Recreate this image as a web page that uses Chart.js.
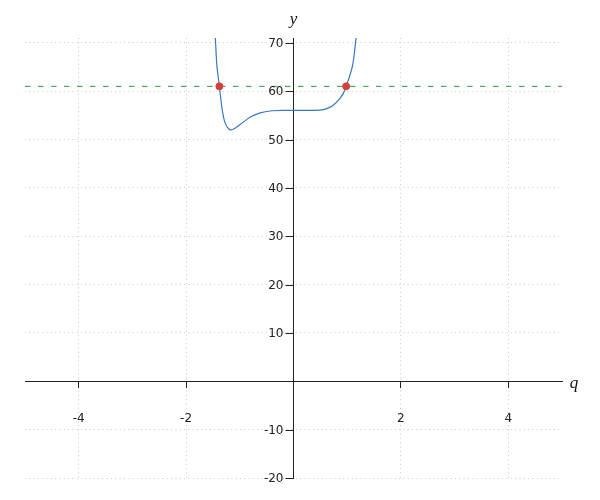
<!DOCTYPE html>
<html><head><meta charset="utf-8">
<script src="https://cdn.jsdelivr.net/npm/chart.js@4"></script>
<style>html,body{margin:0;padding:0;background:#fff}</style>
</head><body>
<canvas id="c" width="600" height="500"></canvas>
<script>
// Curve samples (q, y)
const curveQ = [-1.455, -1.43, -1.405, -1.38, -1.336, -1.29, -1.23, -1.168, -1.08, -0.995, -0.81, -0.62, -0.4, -0.2, 0, 0.2, 0.49, 0.62, 0.74, 0.865, 0.93, 0.98, 1.05, 1.11, 1.165];
const curveY = [71, 65.7, 63.2, 61, 56.8, 54.0, 52.5, 52.0, 52.4, 53.1, 54.6, 55.5, 55.95, 56.05, 56.05, 56.05, 56.1, 56.4, 57.1, 58.5, 59.6, 61, 63.3, 65.9, 71];
// Horizontal level and its crossing points
const levelY = 61;
const levelQ = [-5, 5];
const crossQ = [-1.38, 0.98];
const crossY = [61, 61];
// Tick labels
const xTicks = [-4, -2, 2, 4];
const yTicks = [-20, -10, 10, 20, 30, 40, 50, 60, 70];
const xRange = [-5, 5];
const yRange = [-20, 71];

const curveData = curveQ.map((q, i) => ({x: q, y: curveY[i]}));
const levelData = levelQ.map(q => ({x: q, y: levelY}));
const crossData = crossQ.map((q, i) => ({x: q, y: crossY[i]}));

const axisDecor = {
  id: 'axisDecor',
  afterDraw(chart) {
    const {ctx, scales} = chart;
    const ax = scales.x.getPixelForValue(0);
    ctx.save();
    // y tick marks and labels beside the centred axis
    ctx.strokeStyle = '#222';
    ctx.lineWidth = 1;
    ctx.fillStyle = '#222';
    ctx.font = '12px "DejaVu Sans"';
    ctx.textAlign = 'right';
    ctx.textBaseline = 'middle';
    yTicks.forEach(v => {
      const py = Math.round(scales.y.getPixelForValue(v)) + 0.5;
      ctx.beginPath();
      ctx.moveTo(ax - 8, py);
      ctx.lineTo(ax, py);
      ctx.stroke();
      ctx.fillText(String(v), ax - 10, py);
    });
    // axis titles
    ctx.fillStyle = '#111';
    ctx.font = 'italic 17px "Liberation Serif", "DejaVu Serif", serif';
    ctx.textAlign = 'center';
    ctx.fillText('y', ax, 20);
    ctx.fillText('q', 574, scales.y.getPixelForValue(0) + 2);
    ctx.restore();
  }
};

new Chart(document.getElementById('c'), {
  type: 'scatter',
  data: {
    datasets: [
      {data: crossData, backgroundColor: '#d2413a', borderColor: '#d2413a', pointRadius: 3.5, showLine: false, order: 0},
      {data: levelData, borderColor: '#2a9a45', borderWidth: 1, borderDash: [5.5, 7.5], pointRadius: 0, showLine: true, order: 1},
      {data: curveData, borderColor: '#3a78c0', borderWidth: 1.2, pointRadius: 0, showLine: true, cubicInterpolationMode: 'monotone', order: 2}
    ]
  },
  options: {
    responsive: false,
    animation: false,
    events: [],
    layout: {padding: {left: 25, right: 38, top: 38, bottom: 22}},
    plugins: {legend: {display: false}, tooltip: {enabled: false}},
    scales: {
      x: {
        type: 'linear', min: xRange[0], max: xRange[1],
        position: {y: 0},
        afterBuildTicks: s => { s.ticks = xTicks.map(v => ({value: v})); },
        grid: {color: '#c8c8c8', lineWidth: 1, drawTicks: true, tickLength: 6, tickColor: '#222', tickWidth: 1},
        border: {display: true, color: '#222', width: 1, dash: [1, 3.3]},
        ticks: {color: '#222', font: {family: '"DejaVu Sans"', size: 12}, padding: 24, maxRotation: 0, autoSkip: false}
      },
      y: {
        type: 'linear', min: yRange[0], max: yRange[1],
        position: {x: 0},
        afterBuildTicks: s => { s.ticks = yTicks.map(v => ({value: v})); },
        grid: {color: '#c8c8c8', lineWidth: 1, drawTicks: false},
        border: {display: true, color: '#222', width: 1, dash: [1, 3.3]},
        ticks: {display: false}
      }
    }
  },
  plugins: [axisDecor]
});
</script>
</body></html>
